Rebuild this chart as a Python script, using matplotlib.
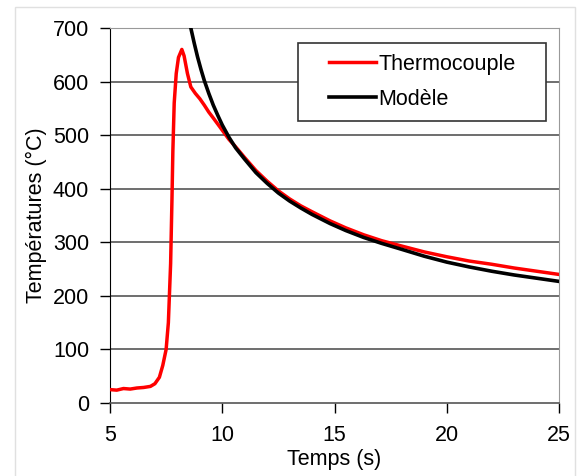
import matplotlib.pyplot as plt
from matplotlib.patches import Rectangle

plt.rcParams['font.family'] = ['Liberation Sans', 'DejaVu Sans']

# Thermocouple measurement
t_thermo = [5.0, 5.3, 5.6, 5.9, 6.2, 6.5, 6.8, 7.0, 7.2, 7.35, 7.5, 7.6, 7.7,
            7.76, 7.8, 7.86, 7.95, 8.05, 8.2, 8.3, 8.45, 8.6, 8.8, 9.0, 9.2,
            9.4, 9.6, 9.9, 10.3, 10.6, 11.0, 11.5, 12.0, 12.5, 13.0, 13.5,
            14.0, 14.8, 15.5, 16.3, 17.1, 17.9, 19.0, 20.0, 21.0, 22.0, 23.0,
            24.0, 25.0]
T_thermo = [25, 24, 27, 26, 28, 29, 31, 36, 48, 70, 100, 150, 260,
            380, 470, 560, 615, 645, 660, 648, 615, 590, 578, 568, 556,
            543, 532, 515, 492, 478, 458, 434, 414, 396, 381, 368,
            357, 340, 327, 314, 303, 294, 282, 273, 265, 259, 252,
            246, 240]

# Model
t_model = [8.6, 8.75, 8.9, 9.05, 9.2, 9.4, 9.6, 9.8, 10.0, 10.3, 10.6, 11.0,
           11.5, 12.0, 12.5, 13.0, 13.5, 14.0, 14.8, 15.5, 16.3, 17.1, 17.9,
           19.0, 20.0, 21.0, 22.0, 23.0, 24.0, 25.0]
T_model = [700, 672, 646, 623, 602, 578, 556, 537, 519, 496, 476, 455,
           430, 410, 392, 377, 364, 352, 335, 322, 309, 298, 288,
           274, 263, 254, 246, 239, 233, 227]

x_ticks = [5, 10, 15, 20, 25]
y_ticks = [0, 100, 200, 300, 400, 500, 600, 700]

W, H = 583, 476
fs = 15.5

fig = plt.figure(figsize=(W / 100, H / 100), dpi=100)
fig.patches.append(Rectangle((15 / W, -0.1), 560 / W, 1.1 - 7 / H,
                             transform=fig.transFigure, fill=False,
                             edgecolor='#e0e0e0', linewidth=1))
ax = fig.add_axes([110 / W, 73 / H, 449 / W, 375 / H])

for y in y_ticks[1:-1]:
    ax.axhline(y, color='#555555', linewidth=1.2, zorder=1)

ax.plot(t_thermo, T_thermo, color='#ff0000', linewidth=2.5, label='Thermocouple', zorder=3)
ax.plot(t_model, T_model, color='black', linewidth=2.6, label='Modèle', zorder=4)

ax.set_xlim(5, 25)
ax.set_ylim(0, 700)
ax.set_xticks(x_ticks)
ax.set_yticks(y_ticks)
ax.tick_params(direction='out', length=7, width=1, labelsize=fs)
ax.tick_params(axis='x', pad=9)
ax.tick_params(axis='y', pad=8)

ax.spines['left'].set_color('black')
ax.spines['bottom'].set_color('#555555')
ax.spines['bottom'].set_linewidth(1.2)
ax.spines['top'].set_color('#999999')
ax.spines['right'].set_color('#999999')

ax.set_xlabel('Temps (s)', fontsize=fs, labelpad=2)
ax.set_ylabel('Températures (°C)', fontsize=fs, labelpad=4)

# legend frame drawn separately so its size matches the reference
ax.add_patch(Rectangle(((298 - 110) / 449, 1 - (121 - 28) / 375), 248 / 449, 78 / 375,
                       transform=ax.transAxes, facecolor='white',
                       edgecolor='#333333', linewidth=1.2, zorder=5))
leg = ax.legend(loc='center left', bbox_to_anchor=((329 - 110) / 449, 1 - (82 - 28) / 375),
                fontsize=fs, frameon=False, borderpad=0, borderaxespad=0,
                handlelength=2.2, handletextpad=0.1, labelspacing=0.65)
leg.set_zorder(6)

fig.savefig('out.png', dpi=100)
